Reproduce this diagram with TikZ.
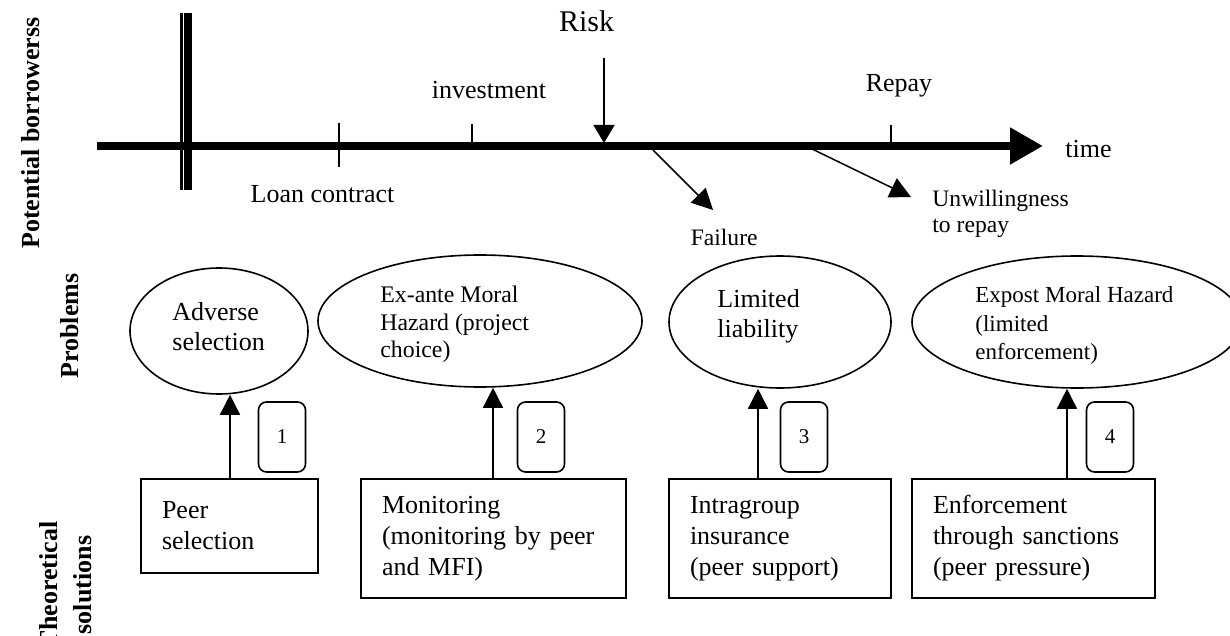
\documentclass[tikz,border=0pt]{standalone}
\usepackage{fontspec}
\setmainfont{Liberation Serif}
\usetikzlibrary{arrows.meta,shapes.geometric}
\begin{document}
\begin{tikzpicture}[x=0.5pt,y=-0.5pt,
  side/.style={rotate=90,align=center,inner sep=0pt,font=\bfseries\fontsize{13}{17}\selectfont},
  mark label/.style={inner sep=0pt,font=\fontsize{13}{15}\selectfont},
  prob/.style={draw,ellipse,line width=0.8pt,inner sep=0pt},
  probtext/.style={align=left,inner sep=0pt,anchor=west},
  sol/.style={draw,rectangle,line width=1pt,inner xsep=10.5pt,inner ysep=0pt,align=left,
    font=\fontsize{13}{15.5}\selectfont},
  numbox/.style={draw,rounded corners=4pt,line width=0.8pt,minimum width=23.5pt,
    minimum height=35pt,inner sep=0pt,font=\fontsize{10.5}{12}\selectfont},
  tick/.style={line width=0.75pt},
  thinarr/.style={line width=0.75pt,-{Triangle[length=10.5pt,width=10.5pt]}},
  uparr/.style={line width=0.75pt,-{Triangle[length=10pt,width=10pt]}}]

\useasboundingbox (0,0) rectangle (1230,636);

% row labels
\node[side] (lab1) at (31,133) {Potential borrowerss};
\node[side] (lab2) at (70,326) {Problems};
\node[side] (lab3) at (66,585) {Theoretical\\solutions};

% time axis
\coordinate (t0) at (97,146);
\coordinate (t1) at (1043,146);
\draw[line width=4pt,-{Triangle[length=16.5pt,width=17.5pt]}] (t0) -- (t1);
\node[inner sep=0pt,anchor=base west,font=\fontsize{13}{15}\selectfont] (time) at (1065,158) {time};

% starting double bar
\draw[line width=1.3pt] (181.5,13) -- (181.5,190);
\draw[line width=3.8pt] (188,13) -- (188,190);

% ticks on the axis
\draw[tick] (339,123) -- (339,167);
\draw[tick] (472,124) -- (472,146);
\draw[tick] (891,125) -- (891,146);
\node[mark label,anchor=base] (loan) at (322.5,203) {Loan contract};
\node[mark label,anchor=base] (inv) at (489,99) {investment};
\node[mark label,anchor=base] (repay) at (899,92) {Repay};

% risk and its outcomes
\node[inner sep=0pt,anchor=base,font=\fontsize{15}{18}\selectfont] (risk) at (586.5,32) {Risk};
\coordinate (rk0) at (604,58);
\coordinate (rk1) at (604,143);
\draw[line width=0.75pt,-{Triangle[length=9pt,width=10.5pt]}] (rk0) -- (rk1);
\coordinate (f0) at (653,150);
\coordinate (f1) at (713,210);
\draw[thinarr] (f0) -- (f1);
\coordinate (u0) at (810,148);
\coordinate (u1) at (911,197);
\draw[thinarr] (u0) -- (u1);
\node[inner sep=0pt,anchor=base east,font=\fontsize{11.8}{13}\selectfont] (fail) at (758,246) {Failure};
\node[inner sep=0pt,anchor=west,align=left,font=\fontsize{11.8}{13}\selectfont] (unw) at (932,213.5) {Unwillingness\\to repay};

% problems
\node[prob,minimum width=89pt,minimum height=63pt] (e1) at (219,331) {};
\node[prob,minimum width=162pt,minimum height=66pt] (e2) at (480,321) {};
\node[prob,minimum width=111pt,minimum height=66pt] (e3) at (780,322) {};
\node[prob,minimum width=165pt,minimum height=66pt] (e4) at (1077,322) {};

\node[probtext,font=\fontsize{13}{15}\selectfont] (p1) at (172,327) {Adverse\\selection};
\node[probtext,font=\fontsize{11.9}{13.75}\selectfont] (p2) at (380,324.5) {Ex-ante Moral\\Hazard (project\\choice)};
\node[probtext,font=\fontsize{13}{15}\selectfont] (p3) at (717,316) {Limited\\liability};
\node[probtext,font=\fontsize{11.5}{14.25}\selectfont] (p4) at (975,325.5) {Expost Moral Hazard\\(limited\\enforcement)};

% theoretical solutions
\node[sol,text width=67.5pt,minimum height=47pt] (r1) at (229.5,526) {Peer\\selection};
\node[sol,text width=111.5pt,minimum height=59.5pt] (r2) at (493.5,538.5) {Monitoring\\(monitoring by peer\\and MFI)};
\node[sol,text width=90pt,minimum height=59.5pt] (r3) at (780,538.5) {Intragroup\\insurance\\(peer support)};
\node[sol,text width=100.5pt,minimum height=59.5pt] (r4) at (1033.5,538.5) {Enforcement\\through sanctions\\(peer pressure)};

% links from solutions to problems
\draw[uparr] ([xshift=0.25pt]r1.north) -- ([xshift=5.5pt]e1.south);
\draw[uparr] ([xshift=-0.25pt]r2.north) -- ([xshift=6.5pt]e2.south);
\draw[uparr] ([xshift=-11pt]r3.north) -- ([xshift=-11pt]e3.south);
\draw[uparr] ([xshift=16.75pt]r4.north) -- ([xshift=-5pt]e4.south);

% numbered tags
\node[numbox] (n1) at (282,437) {1};
\node[numbox] (n2) at (541,437) {2};
\node[numbox] (n3) at (804,437) {3};
\node[numbox] (n4) at (1110,437) {4};

\end{tikzpicture}
\end{document}
